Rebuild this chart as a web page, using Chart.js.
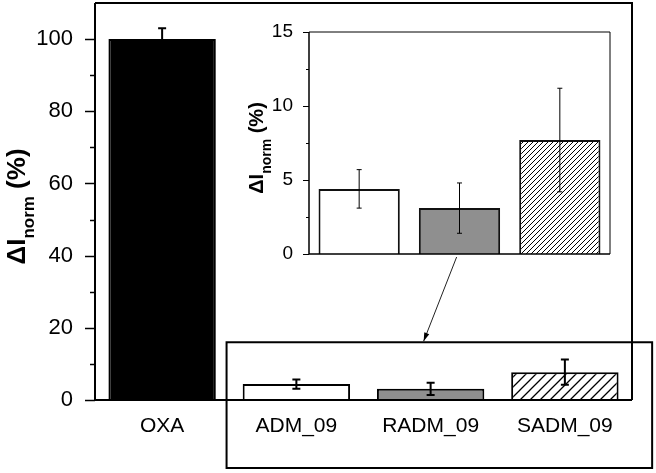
<!DOCTYPE html>
<html>
<head>
<meta charset="utf-8">
<script src="https://cdn.jsdelivr.net/npm/chart.js@4.4.1/dist/chart.umd.min.js"></script>
<style>
    html, body { margin: 0; padding: 0; background: #fff; }
    #wrap { position: relative; width: 656px; height: 473px; background: #fff; }
    #mainChart { position: absolute; left: 0; top: 0; }
    #insetChart { position: absolute; left: 230px; top: 20px; }
</style>
</head>
<body>
<div id="wrap">
    <canvas id="mainChart" width="656" height="473"></canvas>
    <canvas id="insetChart" width="390" height="250"></canvas>
</div>
<script>
// --- Data ---
const categories = ['OXA', 'ADM_09', 'RADM_09', 'SADM_09'];
const values = [100, 4.4, 3.1, 7.7];
const errUp = [3, 1.3, 1.7, 3.5];
const errDown = [0, 1.3, 1.7, 3.5];
const mainTickLabels = [0, 20, 40, 60, 80, 100];
const insetTickLabels = [0, 5, 10, 15];

Chart.defaults.font.family = '"Liberation Sans", Arial, sans-serif';
Chart.defaults.color = '#000';

// --- Helpers ---
function hatch(size, lw) {
    const c = document.createElement('canvas');
    c.width = c.height = size;
    const g = c.getContext('2d');
    g.fillStyle = '#fff';
    g.fillRect(0, 0, size, size);
    g.strokeStyle = '#000';
    g.lineWidth = lw;
    g.beginPath();
    g.moveTo(0, size); g.lineTo(size, 0);
    g.moveTo(-2, 2); g.lineTo(2, -2);
    g.moveTo(size - 2, size + 2); g.lineTo(size + 2, size - 2);
    g.stroke();
    return g.createPattern(c, 'repeat');
}

function drawYTitle(ctx, x, y, big, sub, off) {
    ctx.save();
    ctx.translate(x, y);
    ctx.rotate(-Math.PI / 2);
    ctx.fillStyle = '#000';
    ctx.textBaseline = 'alphabetic';
    const bigFont = `bold ${big}px "Liberation Sans", Arial, sans-serif`;
    const subFont = `bold ${sub}px "Liberation Sans", Arial, sans-serif`;
    ctx.font = bigFont;
    const w1 = ctx.measureText('\u0394I').width;
    const w3 = ctx.measureText(' (%)').width;
    ctx.font = subFont;
    const w2 = ctx.measureText('norm').width;
    let px = -(w1 + w2 + w3) / 2;
    ctx.font = bigFont;
    ctx.fillText('\u0394I', px, 0);
    px += w1;
    ctx.font = subFont;
    ctx.fillText('norm', px, off);
    px += w2;
    ctx.font = bigFont;
    ctx.fillText(' (%)', px, 0);
    ctx.restore();
}

// no extra room for half tick labels, the plot box sets the size
function fitY(width) {
    return s => { s.width = width; s.paddingTop = 0; s.paddingBottom = 0; };
}

// --- Plugins ---
const errorBars = {
    id: 'errorBars',
    afterDatasetsDraw(chart, args, opts) {
        const ctx = chart.ctx;
        const y = chart.scales.y;
        const meta = chart.getDatasetMeta(0);
        ctx.save();
        ctx.strokeStyle = '#000';
        ctx.lineWidth = opts.width;
        meta.data.forEach((bar, i) => {
            const v = opts.values[i];
            const top = y.getPixelForValue(v + opts.up[i]);
            const bot = y.getPixelForValue(v - opts.down[i]);
            const mid = y.getPixelForValue(v);
            ctx.beginPath();
            ctx.moveTo(bar.x, top);
            ctx.lineTo(bar.x, opts.down[i] ? bot : mid);
            ctx.moveTo(bar.x - opts.cap / 2, top);
            ctx.lineTo(bar.x + opts.cap / 2, top);
            if (opts.down[i]) {
                ctx.moveTo(bar.x - opts.cap / 2, bot);
                ctx.lineTo(bar.x + opts.cap / 2, bot);
            }
            ctx.stroke();
        });
        ctx.restore();
    }
};

const frame = {
    id: 'frame',
    afterDraw(chart, args, opts) {
        const ctx = chart.ctx;
        const a = chart.chartArea;
        const y = chart.scales.y;
        ctx.save();
        ctx.strokeStyle = '#000';
        // y ticks, major and minor
        ctx.lineWidth = opts.tickWidth;
        y.ticks.forEach(t => {
            if (t.value > opts.lastTick) return;
            const len = t.value % opts.majorStep === 0 ? opts.major : opts.minor;
            const py = Math.round(y.getPixelForValue(t.value)) + 0.5;
            ctx.beginPath();
            ctx.moveTo(a.left - len, py);
            ctx.lineTo(a.left, py);
            ctx.stroke();
        });
        // axes
        ctx.lineWidth = opts.axisWidth;
        ctx.beginPath();
        ctx.moveTo(a.left, a.top);
        ctx.lineTo(a.left, a.bottom);
        ctx.lineTo(a.right, a.bottom);
        ctx.stroke();
        // box
        ctx.lineWidth = opts.boxWidth;
        ctx.beginPath();
        ctx.moveTo(a.left, a.top);
        ctx.lineTo(a.right, a.top);
        ctx.lineTo(a.right, a.bottom);
        ctx.stroke();
        drawYTitle(ctx, opts.titleX, (a.top + a.bottom) / 2 + opts.titleDy, opts.big, opts.sub, opts.subOff);
        ctx.restore();
    }
};

// zoom box and arrow on the main chart
const zoomBox = {
    id: 'zoomBox',
    afterDraw(chart) {
        const ctx = chart.ctx;
        const x = chart.scales.x;
        const y = chart.scales.y;
        const step = x.getPixelForValue(2) - x.getPixelForValue(1);
        const left = x.getPixelForValue(1) - 0.52 * step;
        const right = x.getPixelForValue(3) + 0.65 * step;
        const top = y.getPixelForValue(16);
        const bottom = chart.height - 5;
        ctx.save();
        ctx.strokeStyle = '#000';
        ctx.lineWidth = 2;
        ctx.strokeRect(left, top, right - left, bottom - top);
        // arrow from inset down to box
        const sx = x.getPixelForValue(2) + 26, sy = 257;
        const ex = x.getPixelForValue(2) - 7, ey = top - 1;
        ctx.lineWidth = 1;
        ctx.strokeStyle = '#222';
        ctx.beginPath();
        ctx.moveTo(sx, sy);
        ctx.lineTo(ex, ey);
        ctx.stroke();
        const ang = Math.atan2(ey - sy, ex - sx);
        ctx.fillStyle = '#000';
        ctx.beginPath();
        ctx.moveTo(ex, ey);
        ctx.lineTo(ex - 9 * Math.cos(ang - 0.3), ey - 9 * Math.sin(ang - 0.3));
        ctx.lineTo(ex - 9 * Math.cos(ang + 0.3), ey - 9 * Math.sin(ang + 0.3));
        ctx.closePath();
        ctx.fill();
        ctx.restore();
    }
};

// --- Main chart ---
new Chart(document.getElementById('mainChart'), {
    type: 'bar',
    data: {
        labels: categories,
        datasets: [{
            data: values,
            backgroundColor: ['#000', '#fff', '#8f8f8f', hatch(10, 1.3)],
            borderColor: '#000',
            borderWidth: 2,
            borderSkipped: 'bottom',
            barPercentage: 0.8,
            categoryPercentage: 1
        }]
    },
    options: {
        responsive: false,
        animation: false,
        layout: { padding: { top: 3, right: 24, left: 0, bottom: 0 } },
        plugins: {
            legend: { display: false },
            tooltip: { enabled: false },
            errorBars: { values: values, up: errUp, down: errDown, cap: 8, width: 2 },
            frame: {
                tickWidth: 1.5, major: 10, minor: 5, majorStep: 20, lastTick: 100,
                axisWidth: 2, boxWidth: 2,
                titleX: 25, titleDy: 5, big: 26, sub: 17, subOff: 9
            }
        },
        scales: {
            x: {
                grid: { display: false },
                border: { display: false },
                ticks: { font: { size: 21 }, padding: 6, color: '#000' },
                afterFit: s => { s.height = 73; }
            },
            y: {
                min: 0, max: 110,
                grid: { display: false },
                border: { display: false },
                ticks: {
                    stepSize: 10, autoSkip: false, padding: 14,
                    font: { size: 22 }, color: '#000',
                    callback: v => mainTickLabels.includes(v) ? v : ''
                },
                afterFit: fitY(95)
            }
        }
    },
    plugins: [errorBars, frame, zoomBox]
});

// --- Inset chart ---
const insetValues = values.slice(1);
new Chart(document.getElementById('insetChart'), {
    type: 'bar',
    data: {
        labels: categories.slice(1),
        datasets: [{
            data: insetValues,
            backgroundColor: ['#fff', '#8f8f8f', hatch(5, 1)],
            borderColor: '#111',
            borderWidth: 2,
            borderSkipped: 'bottom',
            barPercentage: 0.81,
            categoryPercentage: 1
        }]
    },
    options: {
        responsive: false,
        animation: false,
        layout: { padding: { top: 12, right: 10, left: 0, bottom: 16 } },
        plugins: {
            legend: { display: false },
            tooltip: { enabled: false },
            errorBars: { values: insetValues, up: errUp.slice(1), down: errDown.slice(1), cap: 5, width: 1 },
            frame: {
                tickWidth: 1, major: 6, minor: 3, majorStep: 5, lastTick: 15,
                axisWidth: 1.5, boxWidth: 1,
                titleX: 33, titleDy: 5, big: 20, sub: 14, subOff: 8
            }
        },
        scales: {
            x: {
                grid: { display: false },
                border: { display: false },
                ticks: { display: false },
                afterFit: s => { s.height = 0; }
            },
            y: {
                min: 0, max: 15,
                grid: { display: false },
                border: { display: false },
                ticks: {
                    stepSize: 2.5, autoSkip: false, padding: 8,
                    font: { size: 19 }, color: '#000',
                    callback: v => insetTickLabels.includes(v) ? v : ''
                },
                afterFit: fitY(79)
            }
        }
    },
    plugins: [errorBars, frame]
});
</script>
</body>
</html>
